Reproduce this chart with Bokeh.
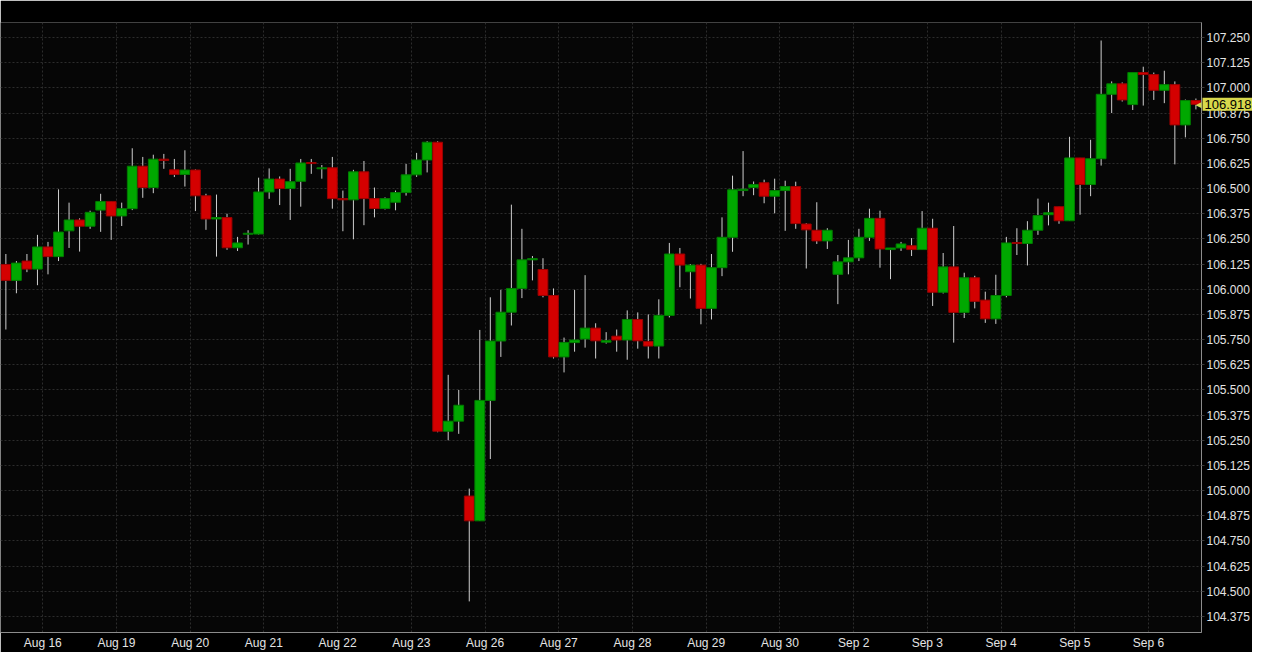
from bokeh.plotting import figure
from bokeh.models import FixedTicker, Label, ColumnDataSource, Range1d, PrintfTickFormatter
from bokeh.embed import file_html
from bokeh.resources import INLINE

# 4-hour style candles, 7 per trading day
opens = [106.123, 106.044, 106.140, 106.100, 106.210, 106.162, 106.290, 106.344, 106.313, 106.393,
         106.436, 106.364, 106.400, 106.611, 106.505, 106.646, 106.593, 106.570, 106.592, 106.464,
         106.349, 106.356, 106.206, 106.273, 106.274, 106.483, 106.547, 106.500, 106.536, 106.629,
         106.598, 106.603, 106.450, 106.444, 106.583, 106.450, 106.401, 106.432, 106.480, 106.568,
         106.642, 106.730, 105.295, 105.345, 104.973, 104.850, 105.448, 105.743, 105.886, 106.004,
         106.146, 106.098, 105.969, 105.664, 105.735, 105.753, 105.807, 105.737, 105.767, 105.748,
         105.850, 105.741, 105.718, 105.870, 106.175, 106.087, 106.120, 105.905, 106.107, 106.258,
         106.490, 106.505, 106.529, 106.462, 106.490, 106.510, 106.324, 106.293, 106.240, 106.074,
         106.136, 106.156, 106.258, 106.352, 106.197, 106.205, 106.216, 106.197, 106.303, 105.985,
         106.111, 105.885, 106.057, 105.946, 105.853, 105.969, 106.232, 106.227, 106.293, 106.370,
         106.410, 106.340, 106.652, 106.520, 106.648, 106.968, 107.020, 106.917, 107.076, 107.066,
         106.988, 107.016, 106.816, 106.937]
highs = [106.175, 106.140, 106.175, 106.270, 106.235, 106.496, 106.430, 106.352, 106.390, 106.474,
         106.438, 106.430, 106.700, 106.657, 106.668, 106.672, 106.647, 106.690, 106.595, 106.474,
         106.470, 106.375, 106.260, 106.293, 106.554, 106.600, 106.560, 106.598, 106.647, 106.647,
         106.617, 106.657, 106.490, 106.593, 106.637, 106.505, 106.456, 106.490, 106.622, 106.677,
         106.735, 106.735, 105.575, 105.500, 105.010, 105.798, 105.960, 105.997, 106.420, 106.300,
         106.165, 106.154, 106.004, 105.760, 105.997, 106.070, 105.831, 105.787, 105.800, 105.895,
         105.885, 105.875, 105.950, 106.230, 106.205, 106.125, 106.126, 106.175, 106.357, 106.564,
         106.686, 106.535, 106.544, 106.549, 106.539, 106.534, 106.328, 106.432, 106.303, 106.170,
         106.245, 106.300, 106.400, 106.390, 106.205, 106.235, 106.254, 106.388, 106.350, 106.180,
         106.314, 106.082, 106.067, 105.988, 106.072, 106.260, 106.303, 106.338, 106.450, 106.430,
         106.410, 106.757, 106.652, 106.742, 107.235, 107.032, 107.027, 107.076, 107.105, 107.076,
         107.085, 107.032, 106.942, 106.947]
lows = [105.800, 105.980, 106.085, 106.020, 106.074, 106.140, 106.205, 106.187, 106.300, 106.285,
        106.245, 106.314, 106.393, 106.454, 106.477, 106.598, 106.557, 106.510, 106.388, 106.295,
        106.162, 106.196, 106.190, 106.222, 106.272, 106.449, 106.418, 106.344, 106.410, 106.573,
        106.549, 106.400, 106.288, 106.248, 106.318, 106.357, 106.396, 106.392, 106.465, 106.558,
        106.580, 105.290, 105.250, 105.282, 104.450, 104.850, 105.157, 105.664, 105.820, 105.956,
        106.044, 105.960, 105.656, 105.587, 105.690, 105.710, 105.656, 105.730, 105.690, 105.650,
        105.705, 105.656, 105.656, 105.860, 106.010, 105.954, 105.826, 105.850, 106.065, 106.186,
        106.462, 106.467, 106.427, 106.377, 106.290, 106.300, 106.103, 106.225, 106.200, 105.926,
        106.074, 106.140, 106.240, 106.107, 106.050, 106.190, 106.165, 106.197, 105.917, 105.979,
        105.735, 105.857, 105.905, 105.833, 105.828, 105.960, 106.170, 106.118, 106.270, 106.317,
        106.325, 106.340, 106.370, 106.462, 106.614, 106.875, 106.932, 106.890, 106.912, 106.940,
        106.924, 106.620, 106.754, 106.893]
closes = [106.044, 106.130, 106.100, 106.210, 106.162, 106.284, 106.344, 106.313, 106.382, 106.436,
          106.364, 106.400, 106.611, 106.505, 106.646, 106.639, 106.570, 106.592, 106.464, 106.349,
          106.356, 106.206, 106.230, 106.278, 106.483, 106.547, 106.500, 106.534, 106.627, 106.624,
          106.603, 106.450, 106.444, 106.583, 106.450, 106.401, 106.450, 106.480, 106.568, 106.642,
          106.730, 105.295, 105.345, 105.424, 104.850, 105.448, 105.743, 105.886, 106.004, 106.146,
          106.152, 105.969, 105.664, 105.736, 105.748, 105.807, 105.744, 105.745, 105.748, 105.850,
          105.744, 105.718, 105.870, 106.175, 106.120, 106.120, 105.905, 106.107, 106.258, 106.494,
          106.497, 106.520, 106.462, 106.490, 106.510, 106.326, 106.295, 106.240, 106.293, 106.136,
          106.156, 106.258, 106.352, 106.200, 106.205, 106.225, 106.197, 106.303, 105.985, 106.111,
          105.885, 106.057, 105.940, 105.853, 105.969, 106.230, 106.227, 106.293, 106.366, 106.380,
          106.340, 106.652, 106.520, 106.648, 106.968, 107.020, 106.940, 107.076, 107.066, 106.988,
          107.016, 106.816, 106.937, 106.918]

day_labels = ["Aug 16", "Aug 19", "Aug 20", "Aug 21", "Aug 22", "Aug 23", "Aug 26", "Aug 27",
              "Aug 28", "Aug 29", "Aug 30", "Sep 2", "Sep 3", "Sep 4", "Sep 5", "Sep 6"]
bars_per_day = 7
first_day_start = 3.5
price_ticks = [104.375 + 0.125 * k for k in range(24)]
last_price = 106.918

idx = list(range(len(opens)))
up = [c >= o for o, c in zip(opens, closes)]
src = ColumnDataSource(dict(
    x=idx,
    top=[max(o, c) for o, c in zip(opens, closes)],
    bottom=[min(o, c) for o, c in zip(opens, closes)],
    high=highs, low=lows,
    fill=["#00a800" if u else "#d40000" for u in up],
    edge=["#007d00" if u else "#9a0000" for u in up],
))

p = figure(width=1252, height=652, x_range=Range1d(-0.51, 113.53), y_range=Range1d(104.2956, 107.3245),
           y_axis_location="right", output_backend="svg", toolbar_location=None,
           min_border_left=0, min_border_top=22, min_border_right=50, min_border_bottom=20)
p.background_fill_color = "#060606"
p.border_fill_color = "#000000"
p.outline_line_color = None

day_ticks = [first_day_start + bars_per_day * k for k in range(len(day_labels))]

p.xaxis.ticker = FixedTicker(ticks=day_ticks)
p.xaxis.major_label_overrides = {t: l for t, l in zip(day_ticks, day_labels)}
p.xgrid.ticker = FixedTicker(ticks=day_ticks)
p.yaxis.ticker = FixedTicker(ticks=price_ticks)
p.ygrid.ticker = FixedTicker(ticks=price_ticks)
p.yaxis.formatter = PrintfTickFormatter(format="%.3f")

for g in (p.xgrid, p.ygrid):
    g.grid_line_color = "#2c2c2c"
    g.grid_line_dash = "2 2"
    g.grid_line_width = 1

for ax in (p.xaxis, p.yaxis):
    ax.axis_line_color = "#8c8c8c"
    ax.major_label_text_color = "#e4e4e4"
    ax.major_label_text_font = "Liberation Sans"
    ax.major_label_text_font_size = "12px"
    ax.minor_tick_line_color = None
p.xaxis.major_tick_line_color = None
p.xaxis.major_tick_out = 0
p.xaxis.major_tick_in = 0
p.xaxis.major_label_standoff = 3
p.yaxis.major_tick_line_color = "#3a3a3a"
p.yaxis.major_tick_in = 0
p.yaxis.major_tick_out = 3
p.yaxis.major_label_standoff = 2

p.segment(x0="x", y0="low", x1="x", y1="high", source=src, line_color="#cfcfcf", line_width=1)
p.vbar(x="x", width=0.93, top="top", bottom="bottom", source=src,
       fill_color="fill", line_color="edge", line_width=1)

# pointer of the last-price tag (inside the frame, cut at its right edge)
arrow = Label(x=113.53, y=last_price, x_offset=-6, text="\u25C0", text_color="#d8d84c",
              text_font_size="11px", text_baseline="middle", text_align="left",
              text_font="DejaVu Sans")
p.add_layout(arrow)
# last-price tag: kept in a side panel so it is not cut by the frame
tag = Label(x=113.53, y=last_price, x_offset=1, text="%.3f" % last_price, text_color="#000000",
            text_font="Liberation Sans", text_font_size="13px", text_baseline="middle",
            text_align="left", background_fill_color="#d8d84c", padding=2)
p.add_layout(tag, "above")

open("out.html", "w").write(file_html(p, INLINE))
